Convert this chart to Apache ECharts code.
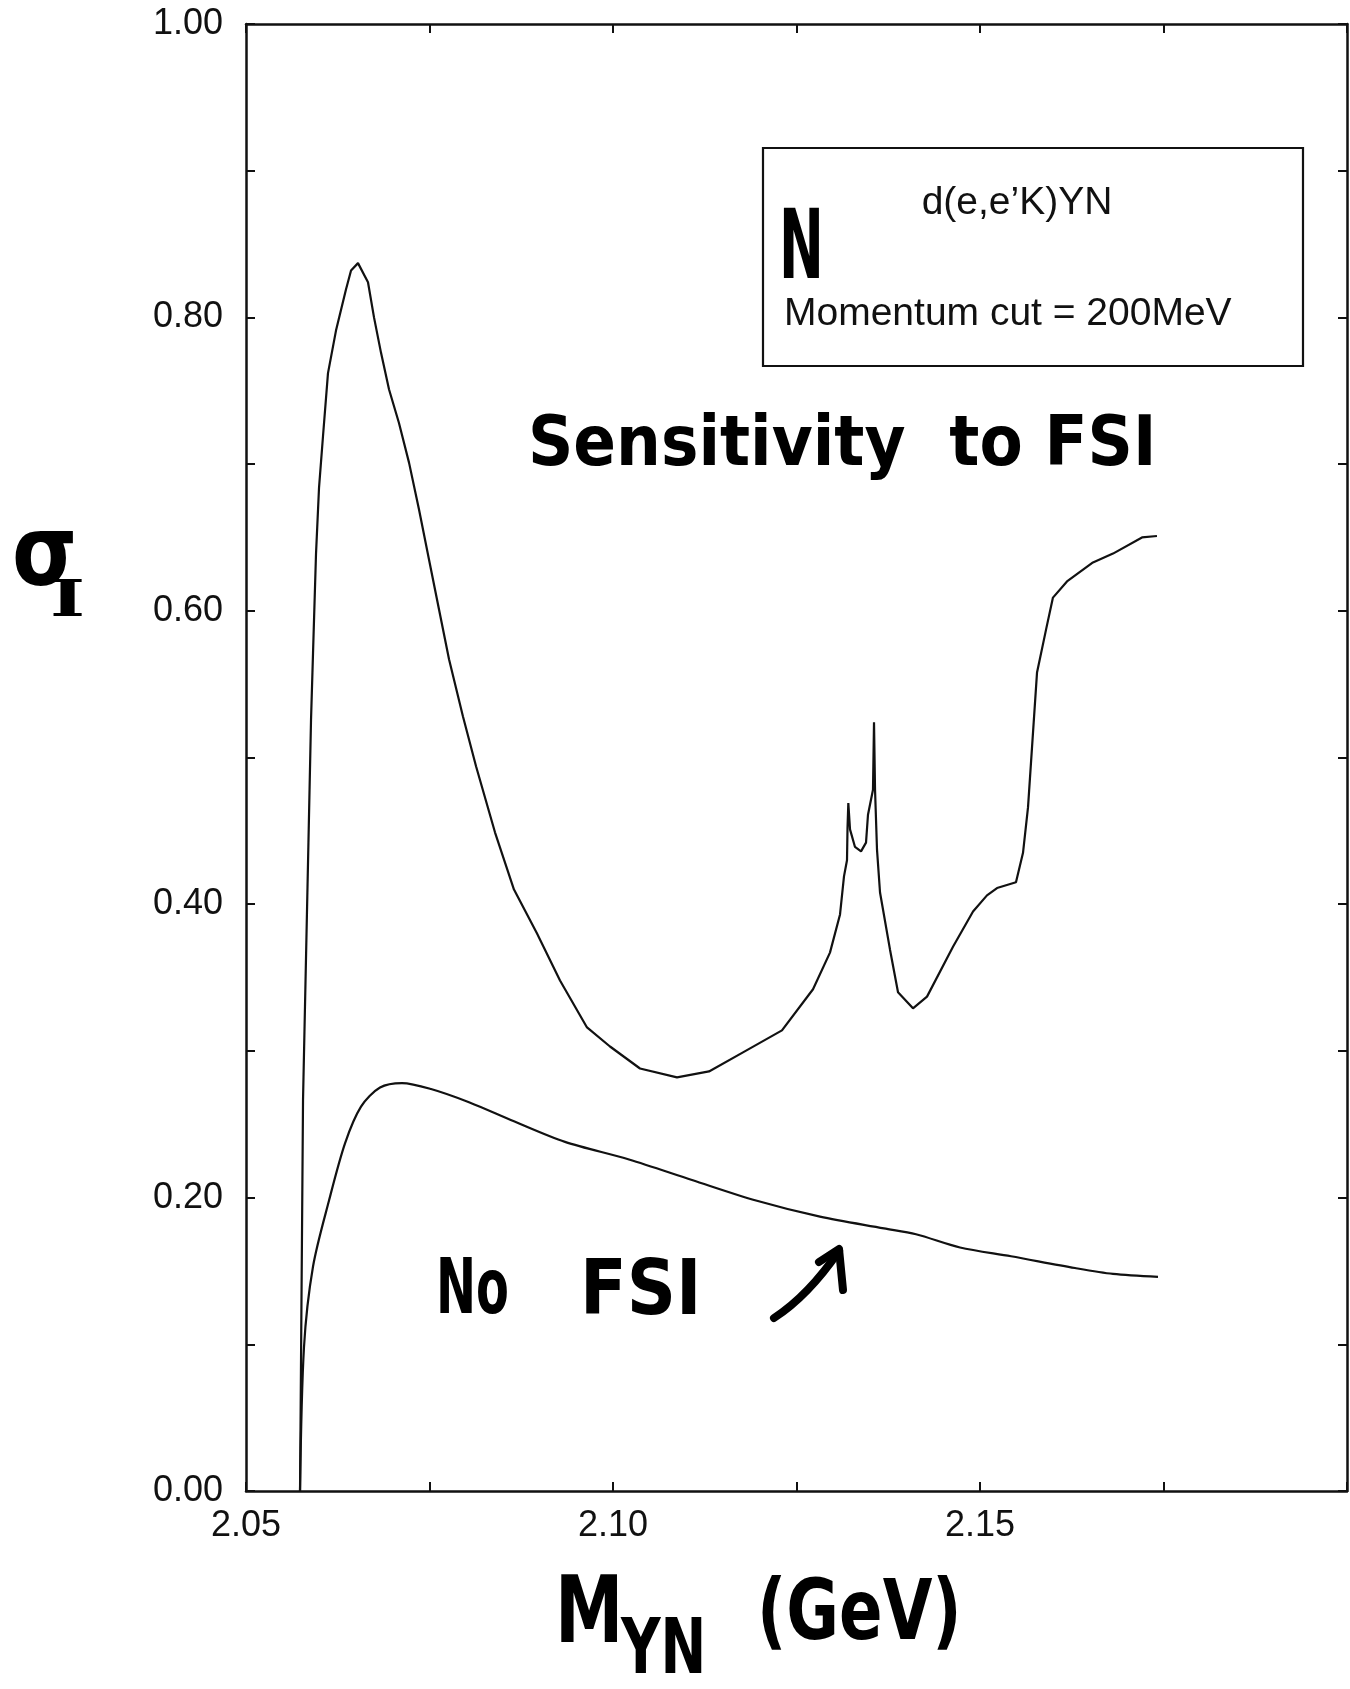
<!DOCTYPE html>
<html>
<head>
<meta charset="utf-8">
<script src="https://cdn.jsdelivr.net/npm/echarts@6/dist/echarts.min.js"></script>
<style>
  html, body { margin: 0; padding: 0; background: #fff; }
  #chart { width: 1350px; height: 1689px; }
</style>
</head>
<body>
<div id="chart"></div>
<script>
// Invariant mass of the hyperon-nucleon pair (GeV)
const massFSI = [2.05736, 2.05777, 2.05886, 2.05913, 2.05954, 2.05995, 2.06049, 2.06117, 2.06226, 2.06362,
  2.06431, 2.06526, 2.06662, 2.06744, 2.06839, 2.06948, 2.07084, 2.07221, 2.07357, 2.07493,
  2.07629, 2.07766, 2.07956, 2.08134, 2.08392, 2.08651, 2.08965, 2.09278, 2.09646, 2.09959,
  2.10368, 2.10872, 2.11308, 2.11771, 2.12302, 2.12725, 2.12956, 2.13093, 2.13147, 2.13188,
  2.13195, 2.13206, 2.13229, 2.13297, 2.13379, 2.13447, 2.13474, 2.13542, 2.13556, 2.1357,
  2.13597, 2.13638, 2.13774, 2.13883, 2.14087, 2.14278, 2.14632, 2.14905, 2.15095, 2.15232,
  2.1549, 2.15586, 2.15654, 2.15777, 2.15899, 2.15994, 2.16185, 2.16539, 2.16812, 2.17207, 2.17411];
// Cross section with final-state interactions
const sigmaFSI = [0, 0.267, 0.526, 0.571, 0.639, 0.684, 0.719, 0.762, 0.791, 0.819,
  0.832, 0.837, 0.824, 0.800, 0.776, 0.751, 0.728, 0.701, 0.669, 0.635,
  0.601, 0.567, 0.528, 0.494, 0.449, 0.410, 0.380, 0.348, 0.316, 0.303,
  0.288, 0.282, 0.286, 0.299, 0.314, 0.342, 0.367, 0.393, 0.419, 0.430,
  0.452, 0.469, 0.451, 0.439, 0.436, 0.442, 0.461, 0.478, 0.524, 0.478,
  0.437, 0.408, 0.369, 0.340, 0.329, 0.337, 0.371, 0.395, 0.406, 0.411,
  0.415, 0.435, 0.466, 0.558, 0.587, 0.609, 0.620, 0.633, 0.639, 0.650, 0.651];

// Plane-wave result, no final-state interactions
const massNoFSI = [2.05736, 2.0579, 2.05913, 2.06131, 2.06349, 2.06567, 2.06826, 2.07125, 2.0752, 2.08038,
  2.08651, 2.09346, 2.10218, 2.11076, 2.11948, 2.1282, 2.13692, 2.14128, 2.14728, 2.15422,
  2.16294, 2.16812, 2.17425];
const sigmaNoFSI = [0, 0.098, 0.153, 0.198, 0.237, 0.262, 0.275, 0.278, 0.274, 0.265,
  0.252, 0.238, 0.226, 0.212, 0.198, 0.187, 0.179, 0.175, 0.166, 0.160,
  0.152, 0.148, 0.146];

const xTickLabels = ['2.05', '2.10', '2.15'];
const yTickLabels = ['0.00', '0.20', '0.40', '0.60', '0.80', '1.00'];

const pairs = (xs, ys) => xs.map((x, i) => [x, ys[i]]);

const tickFont = { fontFamily: 'Liberation Sans', fontSize: 36, color: '#111' };
const hand = 'DejaVu Sans Condensed';

// hand-lettered note: left edge x, baseline y, font size, horizontal squeeze
function note(text, x, baseline, size, sx, family) {
  return {
    type: 'text', x: x, y: baseline - 0.346 * size, scaleX: sx || 1, z: 11,
    style: { text: text, fontFamily: family || hand, fontWeight: 'bold', fontSize: size, fill: '#000',
      align: 'left', verticalAlign: 'middle' }
  };
}

const chart = echarts.init(document.getElementById('chart'), null, { renderer: 'canvas' });

const xBase = {
  type: 'value', min: 2.05, max: 2.20, interval: 0.025,
  axisLine: { show: true, onZero: false, lineStyle: { color: '#111', width: 2.5 } },
  axisTick: { show: true, inside: true, length: 9, lineStyle: { color: '#111', width: 2 } },
  splitLine: { show: false }
};
const yBase = {
  type: 'value', min: 0, max: 1, interval: 0.1,
  axisLine: { show: true, onZero: false, lineStyle: { color: '#111', width: 2.5 } },
  axisTick: { show: true, inside: true, length: 9, lineStyle: { color: '#111', width: 2 } },
  splitLine: { show: false }
};

const penStyle = { fill: 'none', stroke: '#000', lineWidth: 8, lineCap: 'round', lineJoin: 'round' };

chart.setOption({
  animation: false,
  backgroundColor: '#fff',
  grid: { left: 246, top: 24, width: 1101, height: 1467 },
  xAxis: [
    Object.assign({}, xBase, {
      position: 'bottom',
      axisLabel: Object.assign({}, tickFont, {
        margin: 17,
        formatter: v => {
          const s = v.toFixed(2);
          return xTickLabels.includes(s) && Math.abs(v * 1000 - Math.round(v * 100) * 10) < 1e-6 ? s : '';
        }
      })
    }),
    Object.assign({}, xBase, { position: 'top', axisLabel: { show: false } })
  ],
  yAxis: [
    Object.assign({}, yBase, {
      position: 'left',
      axisLabel: Object.assign({}, tickFont, {
        margin: 23,
        formatter: v => {
          const s = v.toFixed(2);
          return yTickLabels.includes(s) ? s : '';
        }
      })
    }),
    Object.assign({}, yBase, { position: 'right', axisLabel: { show: false } })
  ],
  series: [
    {
      name: 'FSI', type: 'line', data: pairs(massFSI, sigmaFSI),
      showSymbol: false, smooth: false,
      lineStyle: { color: '#111', width: 2.2 }
    },
    {
      name: 'No FSI', type: 'line', data: pairs(massNoFSI, sigmaNoFSI),
      showSymbol: false, smooth: 0.3,
      lineStyle: { color: '#111', width: 2.2 }
    }
  ],
  graphic: [
    // legend box
    { type: 'rect', shape: { x: 763, y: 148, width: 540, height: 218 },
      style: { fill: '#fff', stroke: '#111', lineWidth: 2.2 }, z: 10 },
    { type: 'text', x: 1017, y: 203, z: 11,
      style: { text: 'd(e,e\u2019K)YN', fontFamily: 'Liberation Sans', fontSize: 39, fill: '#111',
        align: 'center', verticalAlign: 'middle' } },
    { type: 'text', x: 784, y: 314, z: 11,
      style: { text: 'Momentum cut = 200MeV', fontFamily: 'Liberation Sans', fontSize: 39, fill: '#111',
        align: 'left', verticalAlign: 'middle' } },
    note('N', 779, 286, 96, 0.62),
    // annotations
    note('Sensitivity  to FSI', 528, 471, 70, 1),
    note('No', 436, 1320, 76, 0.7),
    note('FSI', 580, 1321, 76, 1.0),
    { type: 'bezierCurve', z: 11,
      shape: { x1: 774, y1: 1318, x2: 839, y2: 1251, cpx1: 808, cpy1: 1296 },
      style: penStyle },
    { type: 'polyline', z: 11,
      shape: { points: [[819, 1262], [839, 1249], [843, 1290]] },
      style: penStyle },
    // axis titles
    note('\u03c3', 12, 593, 98, 0.95),
    note('I', 50, 620, 50, 1.5, 'DejaVu Serif'),
    note('M', 555, 1650, 93, 0.82),
    note('YN', 621, 1680, 76, 0.8),
    note('(GeV)', 757, 1646, 84, 0.85)
  ]
});
</script>
</body>
</html>
